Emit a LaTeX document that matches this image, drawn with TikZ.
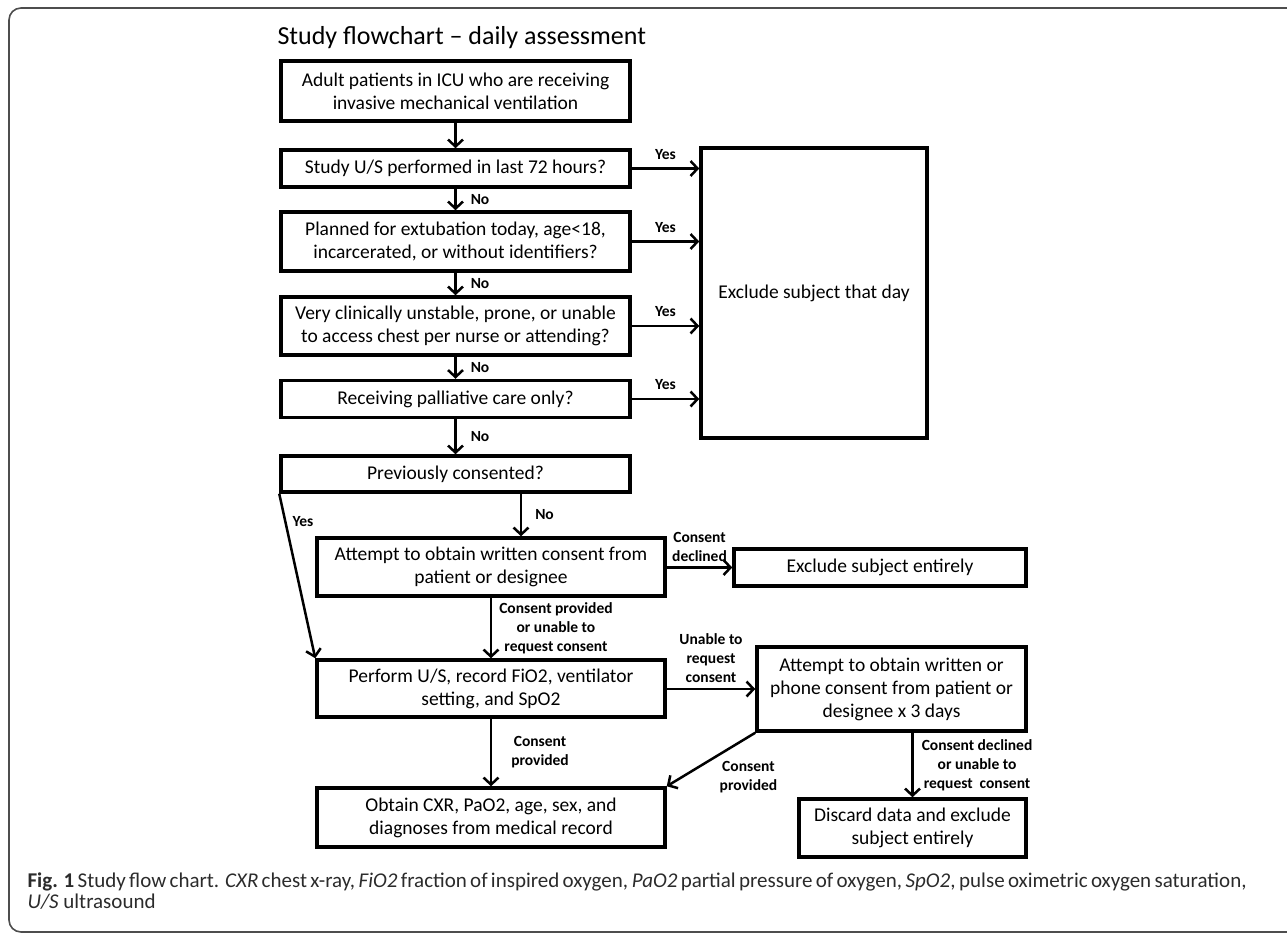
\documentclass[tikz,border=0pt]{standalone}
\usepackage{fontspec}
\setmainfont{Carlito}
\usetikzlibrary{arrows.meta,positioning}
\definecolor{framegray}{HTML}{4D4D4D}
\definecolor{captiongray}{HTML}{2B2B2B}

\begin{document}
\begin{tikzpicture}[x=1pt,y=-1pt,
	box/.style={draw, line width=3.5pt, align=center, inner sep=0pt, font=\fontsize{19.5}{23}\selectfont},
	col/.style={box, minimum width=349pt},
	lbl/.style={font=\bfseries\fontsize{15.5}{19}\selectfont, align=center, inner sep=3pt},
	flow/.style={line width=2.5pt, -{Straight Barb[length=7pt,width=15pt]}}]
	\useasboundingbox (0,0) rectangle (1287,932);
	\draw[framegray, line width=1.6pt, rounded corners=12pt] (1295,8) -- (9,8) -- (9,932) -- (1295,932);
	
	\node[font=\fontsize{26}{30}\selectfont, anchor=base west] (title) at (274,44) {Study flowchart – daily assessment};
	
	\node[col, minimum height=60pt] (adult) at (455.5,91) {Adult patients in ICU who are receiving\\invasive mechanical ventilation};
	\node[col, minimum height=37pt] (usrecent) at (455.5,168.5) {Study U/S performed in last 72 hours?};
	\node[col, minimum height=59pt] (planned) at (455.5,241.5) {Planned for extubation today, age<18,\\incarcerated, or without identifiers?};
	\node[col, minimum height=58pt] (unstable) at (455.5,326) {Very clinically unstable, prone, or unable\\to access chest per nurse or attending?};
	\node[col, minimum height=37pt] (palliative) at (455.5,399) {Receiving palliative care only?};
	\node[col, minimum height=36pt] (consented) at (455.5,474) {Previously consented?};
	\node[box, minimum width=226pt, minimum height=290pt] (excday) at (814,293) {Exclude subject that day};
	
	\node[box, minimum width=348pt, minimum height=58pt] (attempt) at (491,567) {Attempt to obtain written consent from\\patient or designee};
	\node[box, minimum width=292pt, minimum height=37pt] (excall) at (880,567.5) {Exclude subject entirely};
	\node[box, minimum width=348pt, minimum height=57pt] (perform) at (491,688.5) {Perform U/S, record FiO2, ventilator\\setting, and SpO2};
	\node[box, minimum width=269pt, minimum height=84pt] (phone) at (891.5,689) {Attempt to obtain written or\\phone consent from patient or\\designee x 3 days};
	\node[box, minimum width=348pt, minimum height=59pt] (obtain) at (491,817.5) {Obtain CXR, PaO2, age, sex, and\\diagnoses from medical record};
	\node[box, minimum width=227pt, minimum height=58pt] (discard) at (912.5,828) {Discard data and exclude\\subject entirely};
	
	\draw[flow] (adult) -- (usrecent);
	\draw[flow] (usrecent) -- node[lbl, right=11pt] (no1) {No} (planned);
	\draw[flow] (planned) -- node[lbl, right=11pt] (no2) {No} (unstable);
	\draw[flow] (unstable) -- node[lbl, right=11pt] (no3) {No} (palliative);
	\draw[flow] (palliative) -- node[lbl, right=11pt] (no4) {No} (consented);
	
	\draw[flow] (usrecent.east) -- node[lbl, above=5pt] (yes1) {Yes} (usrecent.east -| excday.west);
	\draw[flow] (planned.east) -- node[lbl, above=5pt] (yes2) {Yes} (planned.east -| excday.west);
	\draw[flow] (unstable.east) -- node[lbl, above=5pt] (yes3) {Yes} (unstable.east -| excday.west);
	\draw[flow] (palliative.east) -- node[lbl, above=5pt] (yes4) {Yes} (palliative.east -| excday.west);
	
	\draw[flow] (consented.south west) -- node[lbl, pos=0.17, right=3pt] (yes5) {Yes} (perform.north west);
	\draw[flow] ([xshift=65.5pt]consented.south) -- node[lbl, right=10pt] (no5) {No} ([xshift=65.5pt]consented.south |- attempt.north);
	\draw[flow] (attempt.east |- excall.west) -- node[lbl, above=2pt] (declined) {Consent\\declined} (excall.west);
	\draw[flow] (attempt) -- node[lbl, right=4pt] (provided1) {Consent provided\\or unable to\\request consent} (perform);
	\draw[flow] (perform.east |- phone.west) -- node[lbl, above=2pt] (unable) {Unable to\\request\\consent} (phone.west);
	\draw[flow] (perform) -- node[lbl, right=16pt] (provided2) {Consent\\provided} (obtain);
	\draw[flow] (phone.south west) -- node[lbl, pos=0.45, below right] (provided3) {Consent\\provided} (obtain.north east);
	\draw[flow] (discard.north |- phone.south) -- node[lbl, right=5pt] (declined2) {Consent declined\\or unable to\\request\ \ consent} (discard.north);
	
	\node[anchor=base west, align=left, text=captiongray, font=\fontsize{21}{21}\selectfont] (caption) at (24,908) {\makebox[1219pt][s]{\textbf{Fig. 1} Study flow chart. \textit{CXR} chest x-ray, \textit{FiO2} fraction of inspired oxygen, \textit{PaO2} partial pressure of oxygen, \textit{SpO2}, pulse oximetric oxygen saturation,}\\\textit{U/S} ultrasound};
\end{tikzpicture}
\end{document}
